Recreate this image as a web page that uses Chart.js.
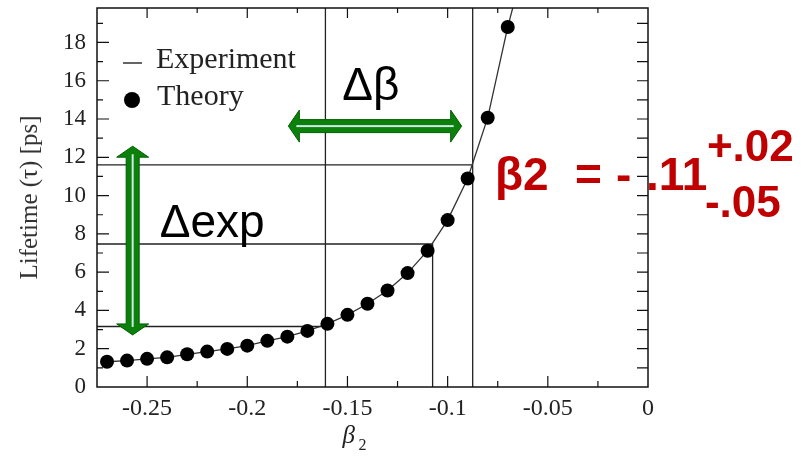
<!doctype html>
<html>
<head>
<meta charset="utf-8">
<title>Lifetime vs beta2</title>
<script src="https://cdn.jsdelivr.net/npm/chart.js@4.4.1/dist/chart.umd.min.js"></script>
<style>
  html, body { margin: 0; padding: 0; background: #fff; }
  #wrap { width: 807px; height: 456px; }
</style>
</head>
<body>
<div id="wrap"><canvas id="myChart" width="807" height="456"></canvas></div>
<script>
  // theory points (beta2 -> lifetime in ps)
  const theoryBeta = [-0.27, -0.26, -0.25, -0.24, -0.23, -0.22, -0.21, -0.20, -0.19, -0.18, -0.17,
                      -0.16, -0.15, -0.14, -0.13, -0.12, -0.11, -0.10, -0.09, -0.08, -0.07];
  const theoryTau  = [1.32, 1.38, 1.47, 1.55, 1.71, 1.85, 1.99, 2.16, 2.41, 2.63, 2.93,
                      3.30, 3.77, 4.35, 5.04, 5.95, 7.12, 8.72, 10.89, 14.07, 18.81];
  // curve keeps going past the last point, off the top
  const tailBeta = [-0.07, -0.065];
  const tailTau  = [18.81, 20.8];

  // experiment: measured lifetime (upper, central, lower) and where it hits the curve
  const expTau  = [11.6, 7.47, 3.16];
  const expBeta = [-0.0875, -0.1075, -0.161];
  const expFullHeight = [true, false, true];

  const xTickLabels = ['-0.25', '-0.2', '-0.15', '-0.1', '-0.05', '0'];
  const yTickLabels = ['0', '2', '4', '6', '8', '10', '12', '14', '16', '18'];

  const X_MIN = -0.275, X_MAX = 0, Y_MIN = 0, Y_MAX = 19.8;

  const serif = 'Liberation Serif';
  const sans = 'Liberation Sans';

  const expSets = expTau.map((t, i) => ({
    data: [
      {x: X_MIN - 0.002, y: t},
      {x: expBeta[i], y: t},
      {x: expBeta[i], y: Y_MIN},
      {x: expBeta[i], y: expFullHeight[i] ? Y_MAX : t}
    ],
    showLine: true,
    borderColor: '#222',
    borderWidth: 1.3,
    pointRadius: 0,
    tension: 0
  }));

  function dblArrow(ctx, x1, y1, x2, y2) {
    const ang = Math.atan2(y2 - y1, x2 - x1);
    const len = Math.hypot(x2 - x1, y2 - y1);
    const hl = 11, hw = 16, sw = 6.5;
    ctx.save();
    ctx.translate(x1, y1);
    ctx.rotate(ang);
    ctx.fillStyle = '#0b800b';
    ctx.strokeStyle = '#006000';
    ctx.lineWidth = 1;
    ctx.beginPath();
    ctx.moveTo(0, 0);
    ctx.lineTo(hl, -hw);
    ctx.lineTo(hl, -sw);
    ctx.lineTo(len - hl, -sw);
    ctx.lineTo(len - hl, -hw);
    ctx.lineTo(len, 0);
    ctx.lineTo(len - hl, hw);
    ctx.lineTo(len - hl, sw);
    ctx.lineTo(hl, sw);
    ctx.lineTo(hl, hw);
    ctx.closePath();
    ctx.fill();
    ctx.stroke();
    ctx.fillStyle = '#cfe8e8';
    ctx.fillRect(hl - 3, -1, len - 2 * hl + 6, 2);
    ctx.restore();
  }

  const decorations = {
    id: 'decorations',
    afterDraw(chart) {
      const {ctx, chartArea: a, scales: {x, y}} = chart;
      ctx.save();

      // frame
      ctx.strokeStyle = '#111';
      ctx.lineWidth = 1.5;
      ctx.strokeRect(a.left, a.top, a.right - a.left, a.bottom - a.top);

      // inward ticks
      ctx.lineWidth = 1.2;
      ctx.beginPath();
      for (let k = -10; k < 0; k++) {
        const px = x.getPixelForValue(k * 0.025);
        const major = k % 2 === 0;
        ctx.moveTo(px, a.bottom); ctx.lineTo(px, a.bottom - (major ? 11 : 6));
        ctx.moveTo(px, a.top); ctx.lineTo(px, a.top + (major ? 10 : 5));
      }
      for (let v = 1; v < Y_MAX; v++) {
        const py = y.getPixelForValue(v);
        const major = v % 2 === 0;
        ctx.moveTo(a.left, py); ctx.lineTo(a.left + (major ? 12 : 6), py);
        ctx.moveTo(a.right, py); ctx.lineTo(a.right - 11, py);
      }
      ctx.stroke();

      // legend
      ctx.fillStyle = '#222';
      ctx.font = '30px "' + serif + '"';
      ctx.textBaseline = 'alphabetic';
      ctx.beginPath();
      ctx.lineWidth = 1.3;
      ctx.moveTo(a.left + 26, a.top + 55); ctx.lineTo(a.left + 45, a.top + 55);
      ctx.stroke();
      ctx.fillText('Experiment', a.left + 59, a.top + 60);
      ctx.beginPath();
      ctx.arc(a.left + 35, a.top + 92, 8, 0, Math.PI * 2);
      ctx.fillStyle = '#000';
      ctx.fill();
      ctx.fillStyle = '#222';
      ctx.fillText('Theory', a.left + 60, a.top + 97);

      // x axis title: beta_2
      ctx.font = 'italic 25px "' + serif + '"';
      ctx.fillText('\u03b2', x.getPixelForValue(-0.1525), a.bottom + 56);
      ctx.font = '16px "' + serif + '"';
      ctx.fillText('2', x.getPixelForValue(-0.1445), a.bottom + 63);

      // green arrows
      dblArrow(ctx, x.getPixelForValue(-0.2572), y.getPixelForValue(12.58),
                    x.getPixelForValue(-0.2572), y.getPixelForValue(2.72));
      dblArrow(ctx, x.getPixelForValue(-0.1795), y.getPixelForValue(13.63),
                    x.getPixelForValue(-0.0930), y.getPixelForValue(13.63));

      // annotation text
      ctx.fillStyle = '#000';
      ctx.font = '46px "' + sans + '"';
      ctx.fillText('\u0394\u03b2', x.getPixelForValue(-0.1526), y.getPixelForValue(15.0));
      ctx.fillText('\u0394exp', x.getPixelForValue(-0.2437), y.getPixelForValue(7.85));

      // result
      const rx = x.getPixelForValue(-0.0764), ry = y.getPixelForValue(10.28);
      ctx.fillStyle = '#c00000';
      ctx.font = 'bold 46px "' + sans + '"';
      ctx.fillText('\u03b22', rx, ry);
      ctx.fillText('=', rx + 80, ry);
      ctx.fillText('-', rx + 121, ry);
      ctx.fillText('.11', rx + 151, ry);
      ctx.font = 'bold 44px "' + sans + '"';
      ctx.fillText('+.02', rx + 212, ry - 29);
      ctx.fillText('-.05', rx + 210, ry + 27);

      ctx.restore();
    }
  };

  function noPad(scale) {
    scale.paddingTop = 0;
    scale.paddingBottom = 0;
    scale.paddingLeft = 0;
    scale.paddingRight = 0;
  }

  const ctx = document.getElementById('myChart').getContext('2d');
  const myChart = new Chart(ctx, {
    type: 'scatter',
    data: {
      datasets: [
        {
          label: 'Theory',
          data: theoryBeta.map((b, i) => ({x: b, y: theoryTau[i]})),
          showLine: true,
          borderColor: '#333',
          borderWidth: 1.3,
          backgroundColor: '#000',
          pointBackgroundColor: '#000',
          pointBorderWidth: 0,
          pointRadius: 7,
          tension: 0
        },
        {
          label: 'tail',
          data: tailBeta.map((b, i) => ({x: b, y: tailTau[i]})),
          showLine: true,
          borderColor: '#333',
          borderWidth: 1.3,
          pointRadius: 0
        },
        ...expSets
      ]
    },
    options: {
      responsive: false,
      animation: false,
      events: [],
      layout: { padding: { left: 0, right: 159, top: 8, bottom: 0 } },
      plugins: {
        legend: { display: false },
        tooltip: { enabled: false }
      },
      scales: {
        x: {
          type: 'linear',
          min: X_MIN,
          max: X_MAX,
          afterFit: (scale) => { scale.height = 69; noPad(scale); },
          grid: { display: false, drawTicks: false },
          border: { display: false },
          ticks: {
            stepSize: 0.05,
            includeBounds: false,
            padding: 7,
            color: '#222',
            font: { family: serif, size: 24 },
            callback: (value, index) => xTickLabels[index]
          }
        },
        y: {
          min: Y_MIN,
          max: Y_MAX,
          afterFit: (scale) => { scale.width = 97; noPad(scale); },
          grid: { display: false, drawTicks: false },
          border: { display: false },
          title: {
            display: true,
            text: 'Lifetime (\u03c4) [ps]',
            color: '#333',
            font: { family: serif, size: 25 },
            padding: { top: 15, bottom: 0 }
          },
          ticks: {
            stepSize: 2,
            includeBounds: false,
            padding: 11,
            color: '#222',
            font: { family: serif, size: 23 },
            callback: (value, index) => yTickLabels[index]
          }
        }
      }
    },
    plugins: [decorations]
  });
</script>
</body>
</html>
